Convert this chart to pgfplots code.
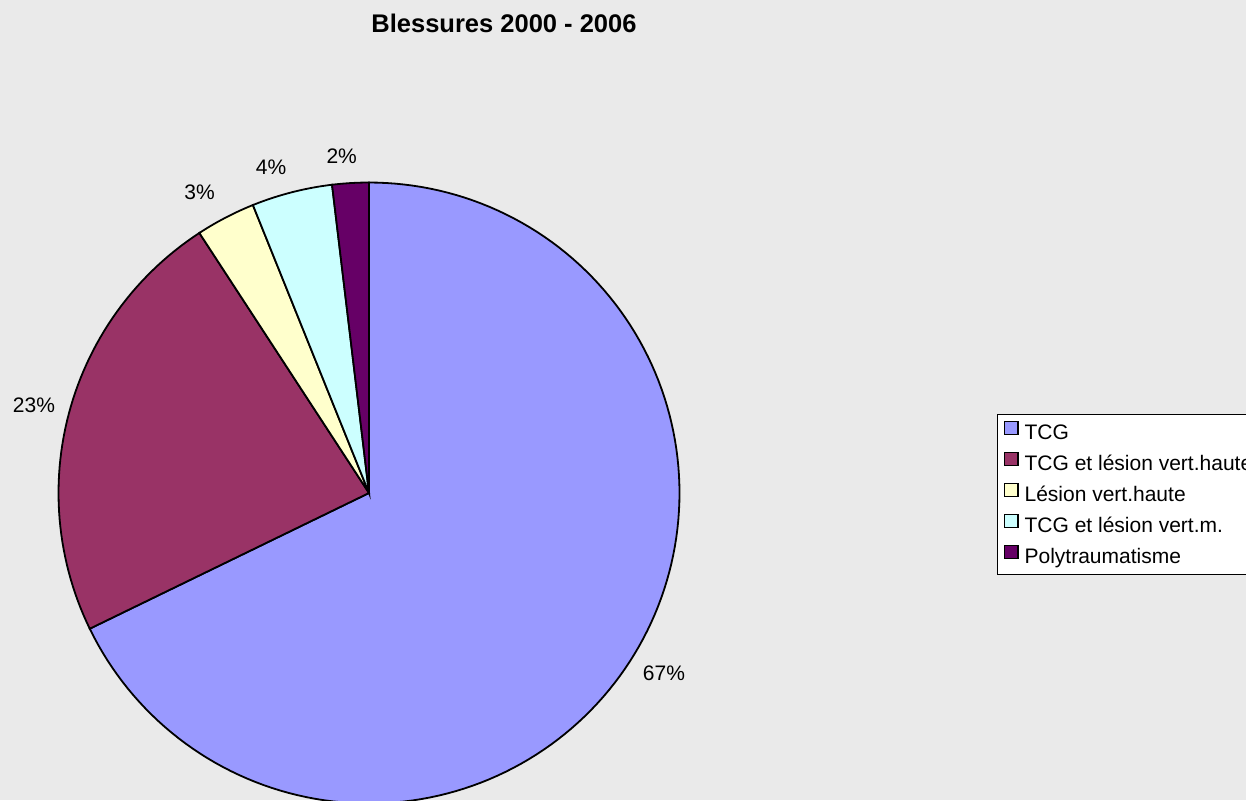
\documentclass[border=0pt]{standalone}
\usepackage{pgfplots}
\pgfplotsset{compat=1.18}
\usepackage{pgfplotstable}
\usepackage{fontspec}
\setmainfont{Liberation Sans}
\definecolor{bg}{HTML}{EAEAEA}
\definecolor{cA}{HTML}{9999FF}
\definecolor{cB}{HTML}{993366}
\definecolor{cC}{HTML}{FFFFCC}
\definecolor{cD}{HTML}{CCFFFF}
\definecolor{cE}{HTML}{660066}
% shares (percent) of the five injury categories, clockwise from 12 o'clock
\pgfplotstableread{
idx value
0 67.8
1 23.0
2 3.1
3 4.2
4 1.9
}\piedata
\newcommand\bodyfont{\fontsize{10.5}{12.6}\selectfont}
\begin{document}%
\begin{tikzpicture}
\pgfplotstablegetelem{0}{value}\of\piedata \let\va\pgfplotsretval
\pgfplotstablegetelem{1}{value}\of\piedata \let\vb\pgfplotsretval
\pgfplotstablegetelem{2}{value}\of\piedata \let\vc\pgfplotsretval
\pgfplotstablegetelem{3}{value}\of\piedata \let\vd\pgfplotsretval
\pgfplotstablegetelem{4}{value}\of\piedata \let\ve\pgfplotsretval
\pgfmathsetmacro{\aA}{90}
\pgfmathsetmacro{\aB}{\aA-3.6*\va}
\pgfmathsetmacro{\aC}{\aB-3.6*\vb}
\pgfmathsetmacro{\aD}{\aC-3.6*\vc}
\pgfmathsetmacro{\aE}{\aD-3.6*\vd}
\pgfmathsetmacro{\aF}{\aE-3.6*\ve}
\useasboundingbox (0,0) rectangle (623pt,400pt);
\clip (0,0) rectangle (623pt,400pt);
\fill[bg] (0,0) rectangle (623pt,400pt);
\begin{scope}[overlay]
\begin{axis}[
  at={(0,0)}, anchor=south west,
  scale only axis, width=623pt, height=400pt,
  xmin=0, xmax=1246, ymin=0, ymax=800,
  y dir=reverse,
  hide axis,
  legend image code/.code={\draw[#1, line width=0.8pt] (0pt,-0.5pt) rectangle (6.6pt,6.1pt);},
  legend cell align=left,
  legend style={
    at={(axis cs:997.3,414)}, anchor=north west,
    draw=black, line width=0.5pt, fill=white,
    inner sep=3pt, row sep=3.75pt,
    font=\bodyfont,
    nodes={inner sep=0pt, text height=8.35pt, text depth=2.15pt},
    /tikz/every odd column/.append style={column sep=3pt},
  },
]
\addplot[fill=cA, draw=black, line width=0.9pt, domain=\aB:\aA, samples=150, variable=\t]
  ({369+310.5*cos(\t)},{493-310.5*sin(\t)}) -- (axis cs:369,493) -- cycle;
\addlegendentry{TCG}
\addplot[fill=cB, draw=black, line width=0.9pt, domain=\aC:\aB, samples=60, variable=\t]
  ({369+310.5*cos(\t)},{493-310.5*sin(\t)}) -- (axis cs:369,493) -- cycle;
\addlegendentry{TCG et lésion vert.haute}
\addplot[fill=cC, draw=black, line width=0.9pt, domain=\aD:\aC, samples=15, variable=\t]
  ({369+310.5*cos(\t)},{493-310.5*sin(\t)}) -- (axis cs:369,493) -- cycle;
\addlegendentry{Lésion vert.haute}
\addplot[fill=cD, draw=black, line width=0.9pt, domain=\aE:\aD, samples=15, variable=\t]
  ({369+310.5*cos(\t)},{493-310.5*sin(\t)}) -- (axis cs:369,493) -- cycle;
\addlegendentry{TCG et lésion vert.m.}
\addplot[fill=cE, draw=black, line width=0.9pt, domain=\aF:\aE, samples=10, variable=\t]
  ({369+310.5*cos(\t)},{493-310.5*sin(\t)}) -- (axis cs:369,493) -- cycle;
\addlegendentry{Polytraumatisme}
\node[anchor=base, font=\bodyfont] at (axis cs:664,680) {67\%};
\node[anchor=base, font=\bodyfont] at (axis cs:34,412.3) {23\%};
\node[anchor=base, font=\bodyfont] at (axis cs:199.5,199.3) {3\%};
\node[anchor=base, font=\bodyfont] at (axis cs:271,174.3) {4\%};
\node[anchor=base, font=\bodyfont] at (axis cs:341.7,163.3) {2\%};
\node[anchor=base, font=\fontsize{12.75}{15}\selectfont\bfseries] at (axis cs:504,32.3) {Blessures 2000 - 2006};
\end{axis}
\end{scope}
\end{tikzpicture}%
\end{document}
